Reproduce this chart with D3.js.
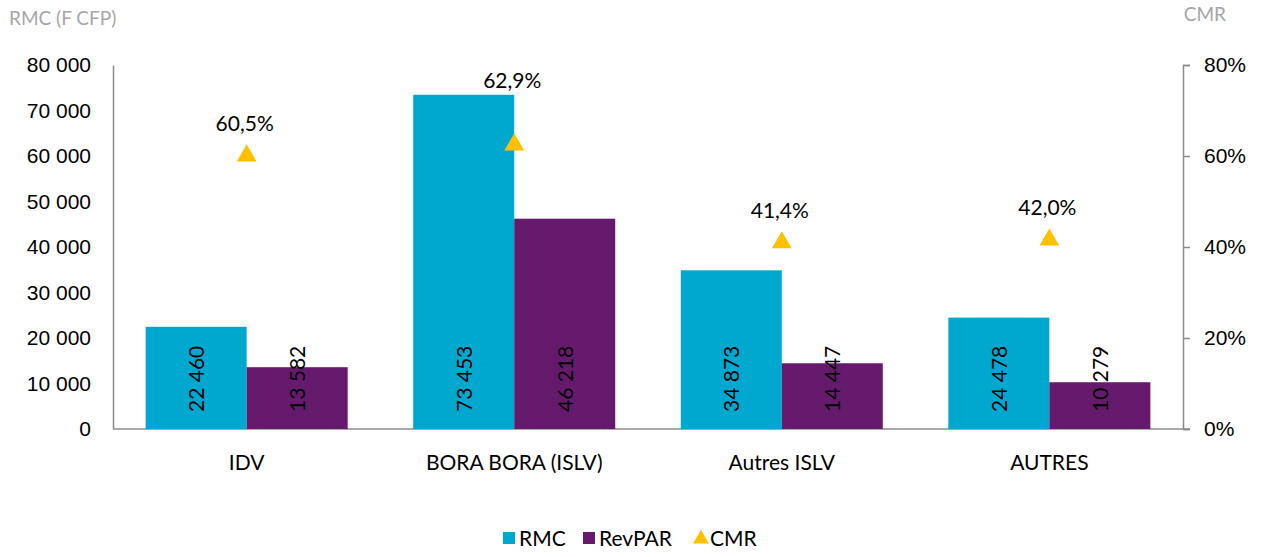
<!DOCTYPE html>
<html><head><meta charset="utf-8">
<script src="https://cdn.jsdelivr.net/npm/d3@7"></script>
<style>body{margin:0;background:#fff}svg{font-family:Lato,"DejaVu Sans",sans-serif}</style>
</head><body><svg id="c" width="1266" height="557"></svg>
<script>
const categories=["IDV","BORA BORA (ISLV)","Autres ISLV","AUTRES"];
const rmc=[22460,73453,34873,24478];
const revpar=[13582,46218,14447,10279];
const cmr=[60.5,62.9,41.4,42.0];
const leftTicks=[0,10000,20000,30000,40000,50000,60000,70000,80000];
const rightTicks=[0,20,40,60,80];
const colors={rmc:"#00A8D0",revpar:"#661A6E",cmr:"#FFC000"};

const svg=d3.select("#c");
const L=113,R=1183,T=65,B=429;
const FS=21;
const x=d3.scaleBand().domain(categories).range([L,R]).paddingInner(0.245).paddingOuter(0.122);
const y=d3.scaleLinear().domain([0,80000]).range([B,T]);
const y2=d3.scaleLinear().domain([0,80]).range([B,T]);
const fmt=v=>d3.format(",")(v).replace(/,/g," ");
const bw=x.bandwidth()/2;

// axes
const ga=svg.append("g").attr("transform",`translate(${L},0)`).call(d3.axisLeft(y).tickValues(leftTicks).tickSize(0).tickPadding(22).tickFormat(fmt));
ga.select(".domain").attr("stroke","#8c8c8c").attr("stroke-width",1.5);
ga.selectAll("text").attr("font-size",FS).attr("fill","#000");
const gb=svg.append("g").attr("transform",`translate(${R},0)`).call(d3.axisRight(y2).tickValues(rightTicks).tickSize(7).tickPadding(14).tickFormat(d=>d+"%"));
gb.select(".domain").attr("stroke","#8c8c8c").attr("stroke-width",1.5);
gb.selectAll("line").attr("stroke","#8c8c8c").attr("stroke-width",1.5);
gb.selectAll("text").attr("font-size",FS).attr("fill","#000");
svg.append("line").attr("x1",L).attr("x2",R+7).attr("y1",B).attr("y2",B).attr("stroke","#8c8c8c").attr("stroke-width",1.5);

svg.append("text").attr("x",9).attr("y",25).attr("font-size",19).attr("fill","#a6a6a6").text("RMC (F CFP)");
svg.append("text").attr("x",1226).attr("y",21).attr("text-anchor","end").attr("font-size",19).attr("fill","#a6a6a6").text("CMR");

// bars
categories.forEach((c,i)=>{
  const x0=x(c);
  svg.append("rect").attr("x",x0).attr("y",y(rmc[i])).attr("width",bw).attr("height",B-y(rmc[i])).attr("fill",colors.rmc);
  svg.append("rect").attr("x",x0+bw).attr("y",y(revpar[i])).attr("width",bw).attr("height",B-y(revpar[i])).attr("fill",colors.revpar);
  [[rmc[i],x0+bw/2],[revpar[i],x0+bw*1.5]].forEach(([v,cx])=>{
    svg.append("text").attr("transform",`translate(${cx+8},${B-17}) rotate(-90)`).attr("font-size",FS).attr("fill","#000").text(fmt(v));
  });
  const cx=x0+bw;
  const cy=y2(cmr[i]);
  svg.append("path").attr("d",d3.symbol(d3.symbolTriangle,170)()).attr("transform",`translate(${cx},${cy+2})`).attr("fill",colors.cmr);
  const ly=Math.min(cy-23,y(rmc[i])-7);
  svg.append("text").attr("x",cx-2).attr("y",ly).attr("text-anchor","middle").attr("font-size",FS).attr("fill","#000").text(d3.format(".1f")(cmr[i]).replace(".",",")+"%");
  svg.append("text").attr("x",cx).attr("y",470).attr("text-anchor","middle").attr("font-size",FS).attr("fill","#000").text(c);
});

// legend
const leg=[["RMC","rmc","rect"],["RevPAR","revpar","rect"],["CMR","cmr","tri"]];
const lx=[503,583,694];
leg.forEach(([t,k,s],i)=>{
  if(s==="rect") svg.append("rect").attr("x",lx[i]).attr("y",532).attr("width",12).attr("height",12).attr("fill",colors[k]);
  else svg.append("path").attr("d",d3.symbol(d3.symbolTriangle,110)()).attr("transform",`translate(${lx[i]+7},539)`).attr("fill",colors[k]);
  svg.append("text").attr("x",lx[i]+16).attr("y",546).attr("font-size",FS).attr("fill","#000").text(t);
});
</script></body></html>
